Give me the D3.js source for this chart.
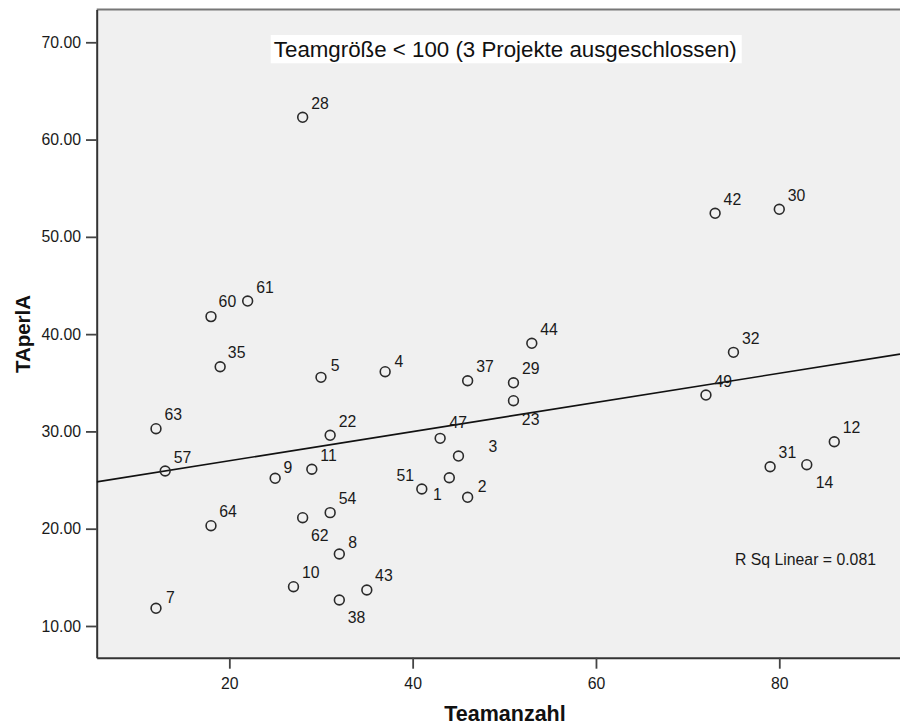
<!DOCTYPE html>
<html><head><meta charset="utf-8">
<script src="https://cdn.jsdelivr.net/npm/d3@7"></script>
<style>body{margin:0;background:#fff}svg{display:block}text{font-family:"Liberation Sans",Arial,sans-serif}</style>
</head><body><svg id="c" width="900" height="724"></svg>
<script>
// ---- data ----
const ids = [28,42,30,32,49,12,31,14,60,61,35,5,63,22,4,57,9,11,51,64,62,54,8,10,43,38,7,44,37,29,23,47,3,1,2];
const teamanzahl = [28,73,80,75,72,86,79,83,18,22,19,30,12,31,37,13,25,29,41,18,28,31,32,27,35,32,12,53,46,51,51,43,45,44,46];
const taperla = [62.29,52.42,52.83,38.13,33.74,28.94,26.37,26.58,41.80,43.40,36.65,35.56,30.28,29.60,36.14,25.93,25.18,26.11,24.08,20.31,21.13,21.65,17.40,14.04,13.70,12.67,11.82,39.06,35.21,35.00,33.16,29.29,27.47,25.24,23.23];
const xTicks = [20,40,60,80];
const yTicks = [10,20,30,40,50,60,70];
const xTitle = "Teamanzahl";
const yTitle = "TAperlA";
const titleText = "Teamgröße < 100 (3 Projekte ausgeschlossen)";
const rsqText = "R Sq Linear = 0.081";

// ---- label placement (layout only) ----
const labelPos = {5:[9.7,-6],4:[9.3,-5],9:[8.3,-5],8:[9,-5.7],7:[10,-5],2:[10,-5],47:[9.3,-10],
  60:[7.6,-9.4],35:[7.7,-9],64:[8.3,-9],10:[8.4,-9],43:[8.3,-9.3],
  14:[9,23],62:[8.4,23.3],38:[8.4,22.7],23:[8.4,24.3],
  51:[-7.7,-8.3,'end'],1:[-7.6,22.3,'end'],3:[30,-4.3]};
const defaultPos = [8.5,-8.5];

const svg = d3.select("#c");
const L = 96.7, R = 900, T = 9.5, B = 657.7;
const x = d3.scaleLinear().domain([5.53, 93.17]).range([L, R]);
const y = d3.scaleLinear().domain([6.74, 73.37]).range([B, T]);

svg.append("rect").attr("x", L).attr("y", T).attr("width", R - L).attr("height", B - T).attr("fill", "#f0f0f0");
svg.append("line").attr("x1", L).attr("x2", R).attr("y1", T).attr("y2", T).attr("stroke", "#777").attr("stroke-width", 2);

const gy = svg.append("g").attr("transform", `translate(${L},0)`)
  .call(d3.axisLeft(y).tickValues(yTicks).tickFormat(d3.format(".2f")).tickSize(10.7).tickPadding(5).tickSizeOuter(0));
const gx = svg.append("g").attr("transform", `translate(0,${B})`)
  .call(d3.axisBottom(x).tickValues(xTicks).tickFormat(d3.format("d")).tickSize(11).tickPadding(9).tickSizeOuter(0));
[gx, gy].forEach(g => {
  g.select(".domain").attr("stroke", "#333").attr("stroke-width", 2);
  g.selectAll(".tick line").attr("stroke", "#444").attr("stroke-width", 1.8);
  g.selectAll(".tick text").attr("fill", "#1a1a1a").style("font-size", "15.8px").style("font-family", '"Liberation Sans",Arial,sans-serif');
});

// regression (OLS)
const mx = d3.mean(teamanzahl), my = d3.mean(taperla);
let sxy = 0, sxx = 0;
teamanzahl.forEach((v, i) => { sxy += (v - mx) * (taperla[i] - my); sxx += (v - mx) * (v - mx); });
const slope = sxy / sxx, icpt = my - slope * mx;
const xd = x.domain();
svg.append("defs").append("clipPath").attr("id", "clip").append("rect").attr("x", L).attr("y", T).attr("width", R - L).attr("height", B - T);
svg.append("line").attr("clip-path", "url(#clip)")
  .attr("x1", x(xd[0])).attr("y1", y(icpt + slope * xd[0]))
  .attr("x2", x(xd[1])).attr("y2", y(icpt + slope * xd[1]))
  .attr("stroke", "#111").attr("stroke-width", 1.6);

// points
const pts = ids.map((id, i) => ({id, xv: teamanzahl[i], yv: taperla[i]}));
svg.append("g").selectAll("circle").data(pts).join("circle")
  .attr("cx", d => x(d.xv)).attr("cy", d => y(d.yv)).attr("r", 4.9)
  .attr("fill", "none").attr("stroke", "#2a2a2a").attr("stroke-width", 1.6);
svg.append("g").selectAll("text").data(pts).join("text")
  .attr("x", d => x(d.xv) + (labelPos[d.id] || defaultPos)[0])
  .attr("y", d => y(d.yv) + (labelPos[d.id] || defaultPos)[1])
  .attr("text-anchor", d => (labelPos[d.id] || defaultPos)[2] || "start")
  .attr("fill", "#1a1a1a").style("font-size", "15.8px").text(d => d.id);

// title box
svg.append("rect").attr("x", 270.7).attr("y", 35).attr("width", 471).attr("height", 28.3).attr("fill", "#fff");
svg.append("text").attr("x", 505.3).attr("y", 57).attr("text-anchor", "middle").attr("fill", "#111")
  .style("font-size", "22.3px").text(titleText);

// R sq
svg.append("text").attr("x", 735).attr("y", 564.5).attr("fill", "#1a1a1a").style("font-size", "15.8px").text(rsqText);

// axis titles
svg.append("text").attr("x", 505).attr("y", 720.5).attr("text-anchor", "middle").attr("fill", "#111")
  .style("font-size", "21.5px").style("font-weight", "bold").text(xTitle);
svg.append("text").attr("transform", "translate(29.5,334) rotate(-90)").attr("text-anchor", "middle").attr("fill", "#111")
  .style("font-size", "20.5px").style("font-weight", "bold").text(yTitle);
</script></body></html>
